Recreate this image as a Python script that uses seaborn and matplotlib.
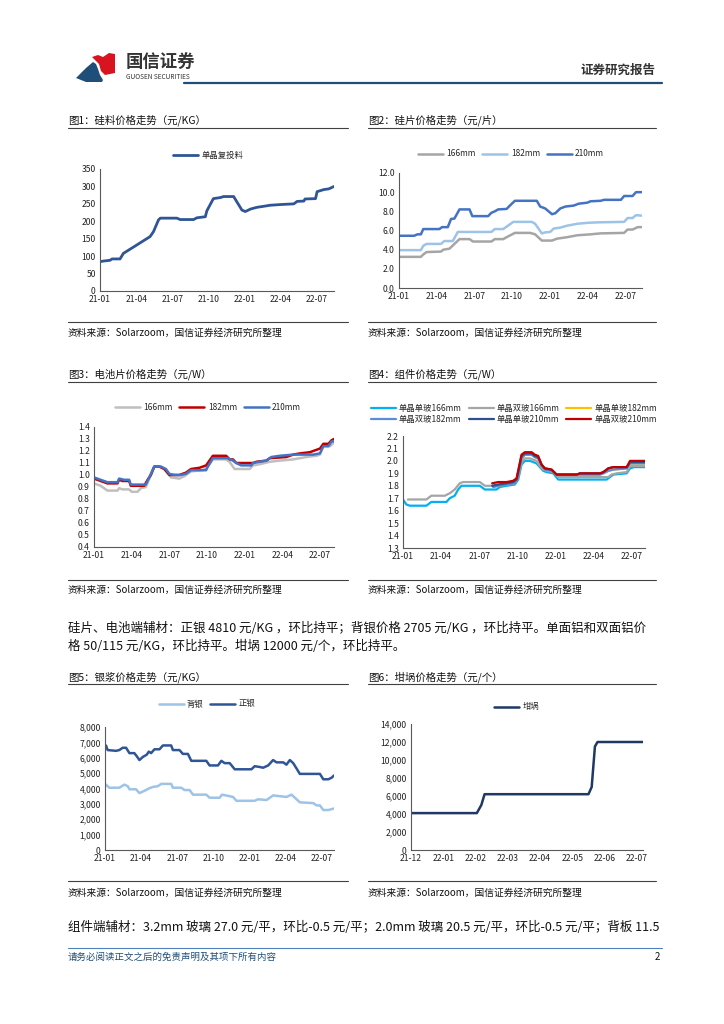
import matplotlib
matplotlib.use("Agg")
import matplotlib.pyplot as plt
import seaborn as sns
import numpy as np
from matplotlib.lines import Line2D
from matplotlib.patches import Polygon
from matplotlib.ticker import FuncFormatter

W, H = 724, 1024

# x values are months counted from 2021-01 (chart 6: from 2021-12)
month_ticks = [0, 3, 6, 9, 12, 15, 18]
month_labels = ["21-01", "21-04", "21-07", "21-10", "22-01", "22-04", "22-07"]
cruc_ticks = [0, 1, 2, 3, 4, 5, 6, 7]
cruc_labels = ["21-12", "22-01", "22-02", "22-03", "22-04", "22-05", "22-06", "22-07"]

# chart 1: polysilicon
poly_x = [0, 0.3, 0.83, 1.0, 1.66, 1.94, 3.05, 3.46, 4.15, 4.43, 4.85, 5.0, 6.37, 6.65, 7.76, 8.03,
          8.73, 8.86, 9.4, 9.97, 10.25, 11.08, 11.36, 11.77, 12.05, 12.47, 13.0, 13.57, 14.1, 14.96,
          16.07, 16.34, 16.9, 17.0, 17.87, 18.0, 18.56, 18.97, 19.4]
poly_y = [84, 86, 88, 92, 92, 108, 132, 141, 156, 170, 204, 209, 209, 205, 205, 210,
          213, 230, 265, 268, 271, 271, 255, 232, 228, 235, 240, 243, 246, 248,
          250, 257, 258, 264, 265, 285, 291, 293, 300]

# chart 2: wafers
w166_x = [0, 1.74, 1.93, 2.19, 3.34, 3.53, 4.01, 4.41, 4.81, 5.61, 5.88, 7.35, 7.62, 8.29, 8.56, 9.22,
          10.43, 10.83, 11.36, 12.17, 12.57, 13.37, 14.17, 15.24, 16.04, 17.91, 18.18, 18.58, 18.98, 19.33]
w166_y = [3.25, 3.25, 3.5, 3.75, 3.8, 4.0, 4.1, 4.6, 5.1, 5.1, 4.85, 4.85, 5.1, 5.1, 5.3, 5.75,
          5.75, 5.6, 4.95, 4.95, 5.15, 5.3, 5.5, 5.6, 5.7, 5.75, 6.1, 6.1, 6.35, 6.35]
w182_x = [0, 1.74, 1.93, 2.19, 3.34, 3.61, 4.28, 4.68, 7.35, 7.62, 8.29, 8.56, 9.09, 10.56, 10.83,
          11.36, 11.63, 12.03, 12.3, 12.83, 13.37, 14.17, 14.97, 15.78, 17.91, 18.18, 18.58, 18.85, 19.33]
w182_y = [3.95, 3.95, 4.4, 4.6, 4.6, 4.9, 4.9, 5.85, 5.85, 6.15, 6.15, 6.4, 6.9, 6.9, 6.7,
          5.7, 5.8, 5.85, 6.2, 6.3, 6.5, 6.7, 6.8, 6.85, 6.9, 7.3, 7.3, 7.6, 7.55]
w210_x = [0, 1.2, 1.47, 1.74, 1.93, 3.21, 3.42, 3.88, 4.14, 4.41, 4.81, 5.61, 5.83, 7.09, 7.35, 7.62,
          7.89, 8.56, 8.82, 9.22, 10.96, 11.23, 11.63, 12.17, 12.43, 12.83, 13.24, 13.9, 14.3, 14.97,
          15.24, 16.04, 16.31, 17.65, 17.91, 18.58, 18.85, 19.33]
w210_y = [5.45, 5.45, 5.6, 5.6, 6.15, 6.15, 6.35, 6.35, 7.2, 7.25, 8.2, 8.2, 7.5, 7.5, 7.85, 8.0,
          8.2, 8.25, 8.6, 9.1, 9.1, 8.5, 8.3, 7.7, 7.8, 8.3, 8.5, 8.6, 8.8, 8.9,
          9.05, 9.1, 9.2, 9.2, 9.6, 9.6, 10.0, 10.0]

# chart 3: cells
c166_x = [0, 0.53, 1.07, 1.87, 2.0, 2.27, 2.8, 3.01, 3.47, 3.73, 4.13, 4.53, 4.8, 5.33, 5.73, 6.13,
          6.8, 7.2, 7.73, 8.67, 9.07, 9.47, 10.53, 10.8, 11.2, 12.4, 12.67, 13.2, 14.0, 14.8, 15.87,
          16.93, 17.73, 18.0, 18.27, 18.8, 19.12]
c166_y = [0.93, 0.91, 0.87, 0.87, 0.89, 0.88, 0.88, 0.86, 0.86, 0.89, 0.90, 1.0, 1.07, 1.07, 1.04, 0.98,
          0.97, 0.99, 1.03, 1.04, 1.07, 1.13, 1.13, 1.11, 1.05, 1.05, 1.08, 1.09, 1.11, 1.12, 1.13,
          1.15, 1.16, 1.17, 1.24, 1.24, 1.27]
c182_x = [0, 0.53, 1.07, 1.87, 2.0, 2.27, 2.8, 2.93, 4.0, 4.27, 4.53, 4.8, 5.2, 5.6, 6.0, 6.8, 7.33,
          7.73, 8.4, 8.93, 9.47, 10.53, 10.8, 11.07, 11.33, 12.67, 12.93, 13.73, 14.0, 15.33, 15.87,
          16.4, 17.2, 17.73, 18.0, 18.27, 18.67, 18.93, 19.12]
c182_y = [0.97, 0.95, 0.93, 0.93, 0.96, 0.95, 0.95, 0.91, 0.91, 0.96, 1.0, 1.07, 1.07, 1.05, 1.0, 1.0, 1.02,
          1.05, 1.06, 1.08, 1.16, 1.16, 1.13, 1.13, 1.1, 1.1, 1.11, 1.12, 1.14, 1.15, 1.17,
          1.18, 1.19, 1.21, 1.22, 1.26, 1.26, 1.29, 1.30]
c210_x = [0, 0.53, 1.07, 1.87, 2.0, 2.4, 2.8, 2.93, 4.13, 4.4, 4.8, 5.33, 5.73, 6.0, 6.4, 6.93, 7.33,
          7.73, 8.93, 9.07, 9.47, 10.67, 11.07, 11.33, 11.73, 12.53, 12.67, 13.73, 14.13, 14.8, 15.87,
          17.47, 18.0, 18.27, 18.67, 18.93, 19.12]
c210_y = [0.98, 0.96, 0.94, 0.94, 0.97, 0.96, 0.96, 0.92, 0.92, 0.98, 1.07, 1.07, 1.05, 1.01, 1.0, 1.0, 1.01,
          1.04, 1.04, 1.07, 1.14, 1.14, 1.12, 1.1, 1.08, 1.08, 1.1, 1.12, 1.15, 1.16, 1.17,
          1.17, 1.18, 1.24, 1.24, 1.28, 1.28]

# chart 4: modules
m166s_x = [0, 0.26, 0.53, 1.84, 2.23, 3.42, 3.68, 4.07, 4.34, 4.6, 6.05, 6.44, 7.36, 7.62, 8.15, 8.8,
           9.07, 9.33, 9.59, 10.0, 10.51, 10.77, 11.04, 11.3, 11.83, 12.22, 16.03, 16.29, 16.56, 17.61,
           17.87, 18.19, 19.05]
m166s_y = [1.69, 1.65, 1.64, 1.64, 1.67, 1.67, 1.70, 1.72, 1.77, 1.80, 1.80, 1.77, 1.77, 1.79, 1.80, 1.81,
           1.85, 1.97, 2.0, 2.0, 1.98, 1.95, 1.92, 1.91, 1.90, 1.85, 1.85, 1.87, 1.89, 1.90,
           1.94, 1.95, 1.95]
m166d_x = [0.39, 1.84, 2.23, 3.29, 3.68, 4.07, 4.47, 4.73, 6.05, 6.44, 7.1, 7.62, 8.15, 8.8, 9.07, 9.33,
           9.59, 10.0, 10.51, 10.77, 11.04, 11.83, 12.22, 16.16, 16.42, 16.82, 17.61, 17.87, 19.05]
m166d_y = [1.69, 1.69, 1.72, 1.72, 1.74, 1.77, 1.82, 1.83, 1.83, 1.80, 1.80, 1.81, 1.82, 1.83, 1.87, 1.99,
           2.02, 2.02, 2.0, 1.96, 1.93, 1.91, 1.87, 1.87, 1.89, 1.90, 1.91, 1.96, 1.96]
m182_x = [7.1, 7.49, 8.15, 8.8, 9.07, 9.33, 9.59, 10.12, 10.38, 10.64, 10.91, 11.17, 11.7, 12.09, 15.51,
          15.77, 16.16, 16.56, 17.61, 17.87, 19.05]
m182s_y = [1.79, 1.80, 1.81, 1.82, 1.87, 2.02, 2.05, 2.05, 2.03, 2.02, 1.96, 1.93, 1.92, 1.89, 1.89,
           1.90, 1.92, 1.93, 1.94, 1.98, 1.98]
m182d_y = [1.79, 1.80, 1.81, 1.82, 1.87, 2.02, 2.05, 2.05, 2.03, 2.02, 1.96, 1.93, 1.92, 1.89, 1.89,
           1.90, 1.92, 1.93, 1.94, 1.98, 1.98]
m210_x = [7.02, 7.49, 8.15, 8.67, 8.94, 9.33, 9.59, 10.12, 10.38, 10.64, 10.91, 11.17, 11.7, 12.09, 13.67,
          13.93, 15.51, 15.77, 16.16, 16.56, 17.61, 17.87, 19.05]
m210s_y = [1.80, 1.81, 1.82, 1.83, 1.85, 2.04, 2.06, 2.06, 2.04, 2.03, 1.97, 1.94, 1.93, 1.89, 1.89,
           1.90, 1.90, 1.91, 1.94, 1.95, 1.95, 1.99, 1.99]
m210d_y = [1.82, 1.83, 1.83, 1.84, 1.86, 2.05, 2.07, 2.07, 2.05, 2.04, 1.97, 1.94, 1.93, 1.89, 1.89,
           1.90, 1.90, 1.91, 1.94, 1.95, 1.95, 2.0, 2.0]

# chart 5: silver paste
front_x = [0, 0.08, 0.22, 0.92, 1.19, 1.47, 1.75, 2.03, 2.44, 2.64, 2.86, 3.14, 3.47, 3.64, 3.83, 4.11,
           4.53, 4.81, 5.5, 5.64, 6.19, 6.47, 6.89, 7.17, 8.42, 8.69, 9.39, 9.67, 9.94, 10.36, 10.78,
           12.17, 12.44, 12.86, 13.14, 13.56, 13.97, 14.25, 14.81, 15.08, 15.36, 15.64, 15.92, 16.19,
           17.86, 18.14, 18.56, 18.83, 19.03]
front_y = [6600, 6800, 6500, 6450, 6500, 6650, 6650, 6300, 6300, 6100, 5850, 6050, 6200, 6400, 6300, 6550,
           6550, 6800, 6800, 6500, 6500, 6250, 6250, 5800, 5800, 5500, 5500, 5800, 5650, 5650, 5250,
           5250, 5450, 5400, 5350, 5500, 5850, 5700, 5700, 5550, 5850, 5650, 5300, 4950,
           4950, 4600, 4600, 4700, 4850]
back_x = [0, 0.08, 0.36, 1.19, 1.61, 1.89, 2.03, 2.58, 2.86, 3.28, 3.64, 3.97, 4.39, 4.67, 5.5, 5.64,
          6.33, 6.61, 7.03, 7.31, 8.42, 8.69, 9.53, 9.72, 10.36, 10.64, 10.92, 12.44, 12.72, 13.42, 13.97,
          14.53, 15.08, 15.5, 15.78, 16.19, 17.31, 17.58, 17.86, 18.14, 18.56, 19.03]
back_y = [4150, 4250, 4050, 4050, 4250, 4150, 3950, 3950, 3700, 3850, 4000, 4100, 4150, 4300, 4300, 4050,
          4050, 3900, 3900, 3600, 3600, 3400, 3400, 3600, 3500, 3450, 3200, 3200, 3300, 3250, 3550,
          3500, 3450, 3600, 3400, 3100, 3050, 2900, 2900, 2600, 2600, 2700]

# chart 6: crucible
cruc_x = [0, 2.04, 2.18, 2.28, 5.5, 5.6, 5.7, 5.78, 7.19]
cruc_y = [4100, 4100, 5000, 6200, 6200, 7000, 11500, 12000, 12000]

sns.set_theme(style="white")
plt.rcParams["font.family"] = ["Noto Sans CJK SC", "DejaVu Sans"]
plt.rcParams["axes.unicode_minus"] = False

fig = plt.figure(figsize=(W / 100, H / 100), dpi=100)


def fig_text(x, y, s, **kw):
    fig.text(x / W, 1 - y / H, s, va="center", **kw)


def fig_line(x0, x1, y, color="#404040", lw=0.8):
    fig.add_artist(Line2D([x0 / W, x1 / W], [1 - y / H, 1 - y / H], color=color, lw=lw,
                          transform=fig.transFigure))


def fig_poly(pts, color):
    fig.add_artist(Polygon([(x / W, 1 - y / H) for x, y in pts], closed=True, color=color,
                           transform=fig.transFigure, lw=0))


def add_ax(l, t, r, b):
    return fig.add_axes([l / W, 1 - b / H, (r - l) / W, (b - t) / H])


def style_ax(ax, xmax, yticks, fmt, xticks=month_ticks, xlabels=month_labels):
    ax.set_xlim(0, xmax)
    ax.set_ylim(yticks[0], yticks[-1])
    ax.set_yticks(yticks)
    ax.yaxis.set_major_formatter(FuncFormatter(fmt))
    ax.set_xticks(xticks)
    ax.set_xticklabels(xlabels)
    ax.set_xlabel("")
    ax.set_ylabel("")
    sns.despine(ax=ax)
    for s in ["left", "bottom"]:
        ax.spines[s].set_color("#595959")
        ax.spines[s].set_linewidth(0.8)
    ax.tick_params(length=0, labelsize=6.2, pad=3, colors="#222222")
    ax.set_facecolor("none")


def legend(ax, cx, cy, ncol, handles=None, labels=None):
    if handles is None:
        handles, labels = ax.get_legend_handles_labels()
    ax.legend(handles, labels, loc="center", bbox_to_anchor=(cx / W, 1 - cy / H),
              bbox_transform=fig.transFigure, ncol=ncol, frameon=False, fontsize=6,
              handlelength=3.0, handletextpad=0.4, columnspacing=0.8, labelspacing=0.3,
              borderpad=0)


def panel(x0, x1, ty, ry, sy, st, title):
    fig_text(x0, ty, title, fontsize=7.5, color="#111111")
    fig_line(x0, x1, ry)
    fig_line(x0, x1, sy)
    fig_text(x0, st, "资料来源：Solarzoom，国信证券经济研究所整理", fontsize=7, color="#111111")


# header
fig_poly([(76, 78), (86, 68), (93, 62), (96, 64), (98, 69), (100, 75), (103, 80), (102, 82), (86, 82)],
         "#1F4E79")
fig_poly([(92, 57), (98, 55), (103, 57), (109, 53), (115, 54), (115, 73), (105, 75), (101, 71),
          (99, 64)], "#D7141F")
fig_text(126, 62, "国信证券", fontsize=12.5, fontweight="bold", color="#333333")
fig_text(126, 77, "GUOSEN SECURITIES", fontsize=4.7, color="#333333")
fig.text(655 / W, 1 - 70 / H, "证券研究报告", fontsize=9, fontweight="bold", color="#333333",
         ha="right", va="center")
fig_line(184, 662, 83, color="#1F4E79", lw=1.6)

# chart 1
panel(68, 348, 120, 128, 322, 333, "图1：硅料价格走势（元/KG）")
ax1 = add_ax(100, 169, 334, 291)
sns.lineplot(x=poly_x, y=poly_y, ax=ax1, color="#2F5597", lw=2.0, label="单晶复投料")
style_ax(ax1, 19.4, list(range(0, 351, 50)), lambda v, p: f"{v:.0f}")
legend(ax1, 208, 155, 1)

# chart 2
panel(368, 656, 120, 128, 322, 333, "图2：硅片价格走势（元/片）")
ax2 = add_ax(399, 173, 642, 288)
sns.lineplot(x=w166_x, y=w166_y, ax=ax2, color="#A5A5A5", lw=1.8, label="166mm")
sns.lineplot(x=w182_x, y=w182_y, ax=ax2, color="#9DC3E6", lw=1.8, label="182mm")
sns.lineplot(x=w210_x, y=w210_y, ax=ax2, color="#4472C4", lw=1.8, label="210mm")
style_ax(ax2, 19.33, [0, 2, 4, 6, 8, 10, 12], lambda v, p: f"{v:.1f}")
legend(ax2, 511, 154, 3)

# chart 3
panel(68, 348, 374, 382, 580, 590, "图3：电池片价格走势（元/W）")
ax3 = add_ax(94, 427, 334, 547)
sns.lineplot(x=c166_x, y=c166_y, ax=ax3, color="#BFBFBF", lw=1.8, label="166mm")
sns.lineplot(x=c182_x, y=c182_y, ax=ax3, color="#C00000", lw=1.8, label="182mm")
sns.lineplot(x=c210_x, y=c210_y, ax=ax3, color="#4472C4", lw=1.8, label="210mm")
style_ax(ax3, 19.12, list(np.round(np.arange(0.4, 1.41, 0.1), 1)), lambda v, p: f"{v:.1f}")
legend(ax3, 208, 407, 3)

# chart 4
panel(368, 656, 374, 382, 580, 590, "图4：组件价格走势（元/W）")
ax4 = add_ax(403, 436, 645, 548)
sns.lineplot(x=m166s_x, y=m166s_y, ax=ax4, color="#00B0F0", lw=1.6, label="单晶单玻166mm")
sns.lineplot(x=m166d_x, y=m166d_y, ax=ax4, color="#A5A5A5", lw=1.6, label="单晶双玻166mm")
sns.lineplot(x=m182_x, y=m182s_y, ax=ax4, color="#FFC000", lw=1.6, label="单晶单玻182mm")
sns.lineplot(x=m182_x, y=m182d_y, ax=ax4, color="#5B8BD9", lw=1.6, label="单晶双玻182mm")
sns.lineplot(x=m210_x, y=m210s_y, ax=ax4, color="#2F4F8F", lw=1.6, label="单晶单玻210mm")
sns.lineplot(x=m210_x, y=m210d_y, ax=ax4, color="#C00000", lw=1.6, label="单晶双玻210mm")
style_ax(ax4, 19.05, list(np.round(np.arange(1.3, 2.21, 0.1), 1)), lambda v, p: f"{v:.1f}")
h, l = ax4.get_legend_handles_labels()
order = [0, 3, 1, 4, 2, 5]
legend(ax4, 514, 414, 3, [h[i] for i in order], [l[i] for i in order])

# paragraph
fig_text(68, 628, "硅片、电池端辅材：正银 4810 元/KG ，环比持平；背银价格 2705 元/KG ，环比持平。单面铝和双面铝价",
         fontsize=9, color="#111111")
fig_text(68, 646, "格 50/115 元/KG，环比持平。坩埚 12000 元/个，环比持平。", fontsize=9, color="#111111")

# chart 5
panel(68, 348, 677, 684, 881, 893, "图5：银浆价格走势（元/KG）")
ax5 = add_ax(105, 727, 334, 850)
sns.lineplot(x=back_x, y=back_y, ax=ax5, color="#9DC3E6", lw=1.8, label="背银")
sns.lineplot(x=front_x, y=front_y, ax=ax5, color="#2F5597", lw=1.8, label="正银")
style_ax(ax5, 19.03, list(range(0, 8001, 1000)), lambda v, p: f"{v:,.0f}")
legend(ax5, 207, 704, 2)

# chart 6
panel(368, 656, 677, 684, 881, 893, "图6：坩埚价格走势（元/个）")
ax6 = add_ax(411, 724, 643, 850)
sns.lineplot(x=cruc_x, y=cruc_y, ax=ax6, color="#203864", lw=1.8, label="坩埚")
style_ax(ax6, 7.19, list(range(0, 14001, 2000)), lambda v, p: f"{v:,.0f}",
         xticks=cruc_ticks, xlabels=cruc_labels)
legend(ax6, 517, 707, 1)

# bottom text and footer
fig_text(68, 927, "组件端辅材：3.2mm 玻璃 27.0 元/平，环比-0.5 元/平；2.0mm 玻璃 20.5 元/平，环比-0.5 元/平；背板 11.5",
         fontsize=9, color="#111111")
fig_line(68, 662, 948, color="#4F81BD", lw=0.8)
fig_text(68, 957, "请务必阅读正文之后的免责声明及其项下所有内容", fontsize=6.8, color="#1F4E79")
fig.text(660 / W, 1 - 957 / H, "2", fontsize=7, color="#111111", ha="right", va="center")

fig.savefig("out.png", dpi=100)
